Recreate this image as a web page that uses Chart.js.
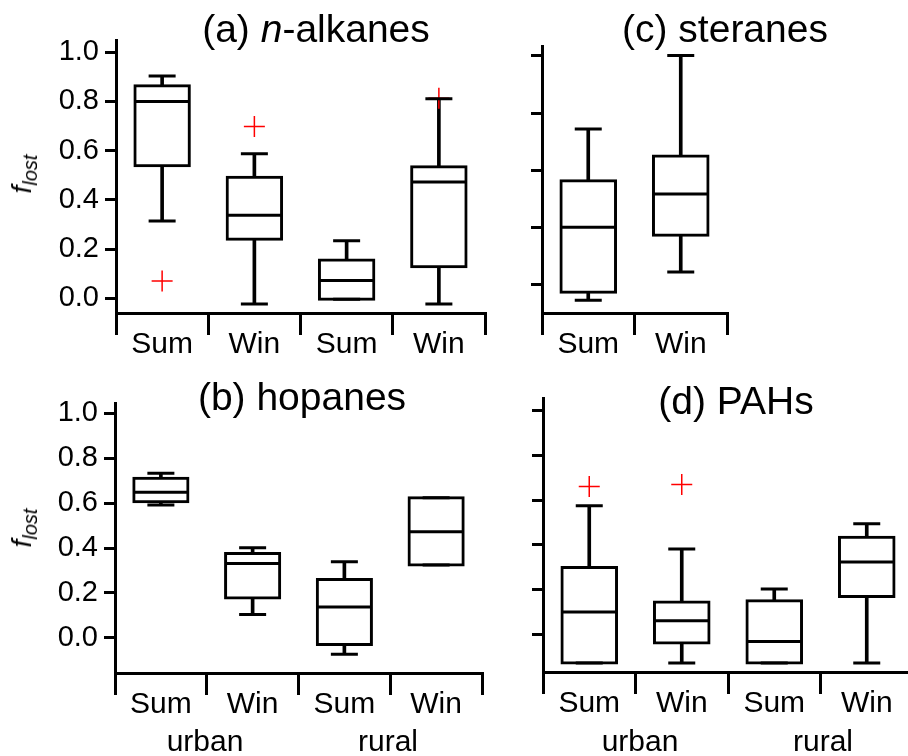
<!DOCTYPE html>
<html>
<head>
<meta charset="utf-8">
<script src="https://cdn.jsdelivr.net/npm/chart.js@4.4.1/dist/chart.umd.min.js"></script>
<style>
  html, body { margin: 0; padding: 0; background: #fff; overflow: hidden; }
  #wrap { position: relative; width: 908px; height: 756px; overflow: hidden; background: #fff;
          font-family: 'Liberation Sans', Arial, sans-serif; color: #000; }
  canvas { position: absolute; }
  .lbl { position: absolute; white-space: nowrap; line-height: 1; transform: translateX(-50%); }
  .title { font-size: 39px; }
  .site { font-size: 30px; }
  .ylab { position: absolute; white-space: nowrap; line-height: 1; font-size: 28px;
          transform: translate(-50%, -50%) rotate(-90deg); }
  .ylab sub { font-size: 20px; vertical-align: -6px; }
</style>
</head>
<body>
<div id="wrap">
  <canvas id="chartA" width="490" height="370" style="left:0;top:0"></canvas>
  <canvas id="chartC" width="418" height="370" style="left:490px;top:0"></canvas>
  <canvas id="chartB" width="490" height="386" style="left:0;top:370px"></canvas>
  <canvas id="chartD" width="428" height="386" style="left:490px;top:370px"></canvas>

  <div class="lbl title" style="left:316px;top:9px">(a) <i>n</i>-alkanes</div>
  <div class="lbl title" style="left:725px;top:9px">(c) steranes</div>
  <div class="lbl title" style="left:302px;top:377px">(b) hopanes</div>
  <div class="lbl title" style="left:736px;top:381px">(d) PAHs</div>

  <div class="ylab" style="left:24px;top:174px"><i>f</i><sub><i>lost</i></sub></div>
  <div class="ylab" style="left:24px;top:528px"><i>f</i><sub><i>lost</i></sub></div>

  <div class="lbl site" style="left:205px;top:726px">urban</div>
  <div class="lbl site" style="left:388px;top:726px">rural</div>
  <div class="lbl site" style="left:640px;top:726px">urban</div>
  <div class="lbl site" style="left:823px;top:726px">rural</div>
</div>
<script>
// category labels
const seasons = ['Sum', 'Win', 'Sum', 'Win']
const steraneSeasons = ['Sum', 'Win']

// (a) n-alkanes
const alkLow  = [0.314, -0.023, -0.004, -0.023]
const alkQ1   = [0.539, 0.240, -0.004, 0.128]
const alkMed  = [0.800, 0.337, 0.072, 0.473]
const alkQ3   = [0.864, 0.492, 0.156, 0.535]
const alkHigh = [0.904, 0.588, 0.234, 0.811]
const alkOut  = [0.070, 0.698, null, 0.813]

// (b) hopanes
const hopLow  = [0.591, 0.104, -0.073, 0.324]
const hopQ1   = [0.606, 0.178, -0.029, 0.324]
const hopMed  = [0.648, 0.331, 0.138, 0.472]
const hopQ3   = [0.710, 0.376, 0.260, 0.624]
const hopHigh = [0.733, 0.401, 0.339, 0.624]
const hopOut  = [null, null, null, null]

// (c) steranes (axis unlabelled)
const steLow  = [-0.055, 0.044]
const steQ1   = [-0.027, 0.172]
const steMed  = [0.200, 0.317]
const steQ3   = [0.363, 0.450]
const steHigh = [0.544, 0.802]
const steOut  = [null, null]

// (d) PAHs (axis unlabelled)
const pahLow  = [-0.126, -0.126, -0.126, -0.126]
const pahQ1   = [-0.126, -0.037, -0.126, 0.171]
const pahMed  = [0.101, 0.062, -0.030, 0.324]
const pahQ3   = [0.300, 0.146, 0.152, 0.434]
const pahHigh = [0.575, 0.382, 0.204, 0.495]
const pahOut  = [0.661, 0.669, null, null]

const FONT = "'Liberation Sans', Arial, sans-serif"
Chart.defaults.font.family = FONT
Chart.defaults.color = '#000'

function pair(a, b) {
  return a.map((v, i) => [v, b[i]])
}

function renderBoxPanel(canvasId, labels, s, opts) {
  const ctx = document.getElementById(canvasId)
  if (!ctx) return null

  const capStyle = {
    type: 'line', showLine: false, pointStyle: 'line', pointRadius: 13.5,
    pointBorderColor: '#000', pointBorderWidth: 3, pointHoverRadius: 13.5
  }

  return new Chart(ctx.getContext('2d'), {
    type: 'bar',
    data: {
      labels: labels,
      datasets: [
        // medians
        {
          type: 'line', data: s.med, showLine: false, order: 1,
          pointStyle: 'line', pointRadius: 27, pointHoverRadius: 27,
          pointBorderColor: '#000', pointBorderWidth: 3
        },
        // whisker caps
        { ...capStyle, data: s.high, order: 2 },
        { ...capStyle, data: s.low, order: 2 },
        // outliers (caps drawn over them)
        {
          type: 'line', data: s.out, showLine: false, order: 3,
          pointStyle: 'cross', pointRadius: 10.5, pointHoverRadius: 10.5,
          pointBorderColor: '#ff0000', pointBorderWidth: 1.5
        },
        // boxes, border centred on the quartile values
        {
          data: pair(s.q1, s.q3), order: 4, grouped: false,
          backgroundColor: '#fff', borderColor: '#000', borderWidth: 3,
          borderSkipped: false, inflateAmount: 1.5,
          barPercentage: 0.59, categoryPercentage: 1
        },
        // whisker stems
        {
          data: pair(s.low, s.high), order: 5, grouped: false,
          backgroundColor: '#000', borderWidth: 0, barThickness: 3
        }
      ]
    },
    options: {
      responsive: false,
      animation: false,
      events: [],
      layout: { padding: opts.padding, autoPadding: false },
      plugins: {
        legend: { display: false },
        title: { display: false },
        tooltip: { enabled: false }
      },
      scales: {
        x: {
          offset: true,
          afterFit: scale => {
            scale.height = opts.xHeight
            scale.paddingLeft = 0
            scale.paddingRight = 0
          },
          border: { display: true, color: '#000', width: 3 },
          grid: { offset: true, drawOnChartArea: false, drawTicks: true, tickLength: 22, lineWidth: 3, color: '#000' },
          ticks: { padding: -8, color: '#000', font: { size: 30 } }
        },
        y: {
          min: opts.min,
          max: opts.max,
          afterFit: scale => {
            scale.width = opts.yWidth
            scale.paddingTop = 0
            scale.paddingBottom = 0
          },
          border: { display: true, color: '#000', width: 3 },
          grid: { drawOnChartArea: false, drawTicks: true, tickLength: 11, lineWidth: 3, color: '#000' },
          ticks: {
            stepSize: 0.2,
            includeBounds: false,
            padding: 6,
            color: '#000',
            font: { size: 29 },
            callback: function(value) { return opts.showLabels ? parseFloat(value).toFixed(1) : '' }
          }
        }
      }
    }
  })
}

renderBoxPanel('chartA', seasons,
  { low: alkLow, q1: alkQ1, med: alkMed, q3: alkQ3, high: alkHigh, out: alkOut },
  { min: -0.06, max: 1.05, showLabels: true, yWidth: 116, xHeight: 57,
    padding: { top: 40, right: 5, left: 0, bottom: 0 } })

renderBoxPanel('chartC', steraneSeasons,
  { low: steLow, q1: steQ1, med: steMed, q3: steQ3, high: steHigh, out: steOut },
  { min: -0.1, max: 0.835, showLabels: false, yWidth: 52, xHeight: 57,
    padding: { top: 46, right: 181, left: 0, bottom: 0 } })

renderBoxPanel('chartB', seasons,
  { low: hopLow, q1: hopQ1, med: hopMed, q3: hopQ3, high: hopHigh, out: hopOut },
  { min: -0.156, max: 1.045, showLabels: true, yWidth: 115, xHeight: 83,
    padding: { top: 33, right: 8, left: 0, bottom: 0 } })

renderBoxPanel('chartD', seasons,
  { low: pahLow, q1: pahQ1, med: pahMed, q3: pahQ3, high: pahHigh, out: pahOut },
  { min: -0.166, max: 1.055, showLabels: false, yWidth: 53, xHeight: 84,
    padding: { top: 28, right: 5, left: 0, bottom: 0 } })
</script>
</body>
</html>
